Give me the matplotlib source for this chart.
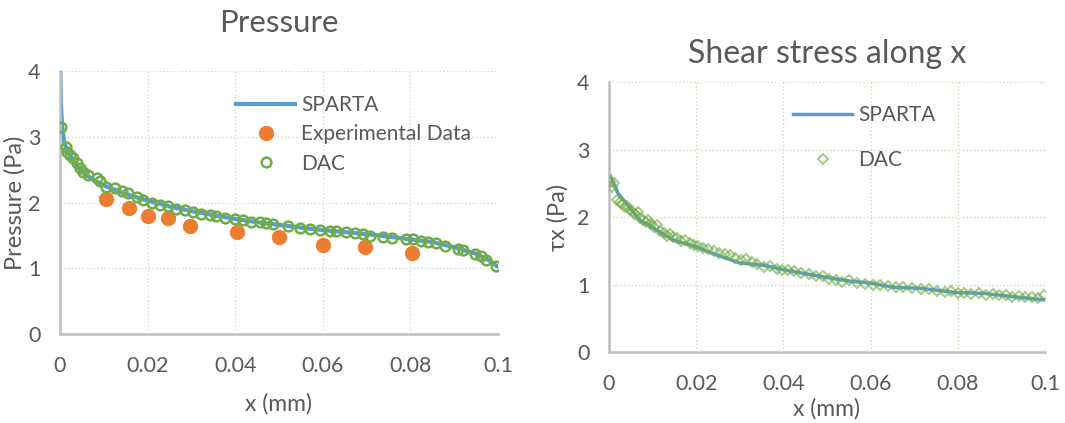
import numpy as np
import matplotlib.pyplot as plt

plt.rcParams['font.family'] = ['Lato', 'DejaVu Sans']

# ---- Pressure chart data ----
sparta_p_x = [0.0, 0.0002, 0.0005, 0.001, 0.002, 0.004, 0.006, 0.008, 0.01, 0.015,
              0.02, 0.025, 0.03, 0.035, 0.04, 0.045, 0.05, 0.055, 0.06, 0.065,
              0.07, 0.075, 0.08, 0.085, 0.09, 0.095, 0.098, 0.1]
sparta_p_y = [4.3, 3.5, 3.15, 2.9, 2.75, 2.55, 2.42, 2.33, 2.26, 2.13,
              2.03, 1.94, 1.87, 1.81, 1.75, 1.70, 1.66, 1.62, 1.58, 1.55,
              1.52, 1.48, 1.44, 1.40, 1.32, 1.22, 1.12, 1.02]

exp_x = [0.0105, 0.0158, 0.020, 0.0247, 0.0297, 0.0404, 0.050, 0.060, 0.0696, 0.0804]
exp_y = [2.05, 1.92, 1.80, 1.77, 1.64, 1.55, 1.47, 1.36, 1.33, 1.23]

dac_p_x = [0.0002, 0.0014, 0.0017, 0.0023, 0.003, 0.0038, 0.0046, 0.0053, 0.0065, 0.0084,
           0.0091, 0.0106, 0.0125, 0.0141, 0.0156, 0.0175, 0.019, 0.0209, 0.0228, 0.0247,
           0.0266, 0.0285, 0.0304, 0.0323, 0.0342, 0.0357, 0.0376, 0.0399, 0.0418, 0.0437,
           0.0456, 0.0471, 0.0487, 0.0521, 0.0548, 0.057, 0.0593, 0.0616, 0.0631, 0.0654,
           0.0673, 0.0692, 0.0707, 0.0738, 0.0757, 0.0791, 0.0806, 0.0825, 0.0840, 0.0859,
           0.0878, 0.0909, 0.0920, 0.0947, 0.0962, 0.0973, 0.0996]
dac_p_y = [3.15, 2.85, 2.77, 2.72, 2.67, 2.60, 2.52, 2.47, 2.42, 2.37,
           2.32, 2.24, 2.22, 2.17, 2.14, 2.09, 2.04, 2.00, 1.96, 1.94,
           1.90, 1.88, 1.85, 1.83, 1.81, 1.80, 1.76, 1.75, 1.74, 1.71,
           1.70, 1.69, 1.68, 1.64, 1.61, 1.59, 1.58, 1.57, 1.57, 1.55,
           1.53, 1.52, 1.49, 1.48, 1.46, 1.45, 1.44, 1.42, 1.40, 1.38,
           1.34, 1.29, 1.28, 1.21, 1.18, 1.13, 1.03]

# ---- Shear stress chart data ----
sparta_t_x = [0.0, 0.0021, 0.007, 0.0109, 0.0147, 0.02, 0.0246, 0.03, 0.0361, 0.04,
              0.0476, 0.0552, 0.06, 0.0652, 0.0721, 0.0797, 0.0858, 0.0927, 0.1]
sparta_t_y = [2.65, 2.35, 1.96, 1.81, 1.66, 1.56, 1.44, 1.32, 1.28, 1.22,
              1.13, 1.05, 1.02, 0.96, 0.94, 0.88, 0.87, 0.82, 0.77]

dac_t_x = [0.0003, 0.0008, 0.0012, 0.0018, 0.0025, 0.003, 0.0036, 0.0042, 0.0048, 0.0055,
           0.006, 0.0066, 0.0072, 0.0078, 0.0085, 0.009, 0.0097, 0.0104, 0.011, 0.0118,
           0.0126, 0.0133, 0.014, 0.0148, 0.0157, 0.0166, 0.0175, 0.0185, 0.0195, 0.0205,
           0.0216, 0.0228, 0.024, 0.0252, 0.0265, 0.0278, 0.029, 0.0303, 0.0315, 0.0328,
           0.034, 0.0355, 0.037, 0.0385, 0.0398, 0.041, 0.0425, 0.044, 0.0458, 0.0475,
           0.049, 0.0505, 0.052, 0.0535, 0.055, 0.057, 0.0588, 0.0605, 0.0622, 0.064,
           0.0658, 0.0675, 0.0695, 0.0715, 0.0735, 0.0752, 0.077, 0.0785, 0.08, 0.0815,
           0.083, 0.0848, 0.0865, 0.088, 0.0895, 0.091, 0.0925, 0.094, 0.0955, 0.097,
           0.0985, 0.0998]
dac_t_y = [2.52, 2.45, 2.50, 2.25, 2.22, 2.20, 2.15, 2.17, 2.10, 2.08,
           2.05, 2.07, 1.98, 1.96, 1.93, 1.95, 1.90, 1.85, 1.88, 1.80,
           1.76, 1.72, 1.75, 1.70, 1.69, 1.65, 1.66, 1.62, 1.58, 1.57,
           1.54, 1.52, 1.50, 1.47, 1.45, 1.43, 1.40, 1.37, 1.38, 1.33,
           1.30, 1.26, 1.28, 1.23, 1.21, 1.22, 1.20, 1.17, 1.15, 1.12,
           1.13, 1.08, 1.07, 1.04, 1.06, 1.02, 1.01, 1.00, 0.99, 0.98,
           0.96, 0.97, 0.95, 0.94, 0.93, 0.90, 0.89, 0.90, 0.88, 0.87,
           0.86, 0.88, 0.85, 0.86, 0.84, 0.85, 0.82, 0.83, 0.81, 0.82,
           0.80, 0.84]

blue = '#5B9BD5'
orange = '#ED7D31'
green = '#70AD47'
txt = '#595959'

fig = plt.figure(figsize=(10.65, 4.23), dpi=100)
ax1 = fig.add_axes([0.0563, 0.2104, 0.4113, 0.6217])
ax2 = fig.add_axes([0.5718, 0.1678, 0.4094, 0.6383])


def style(ax, gridcol):
    ax.set_xlim(0, 0.1)
    ax.set_ylim(0, 4)
    ax.set_xticks([0, 0.02, 0.04, 0.06, 0.08, 0.1])
    ax.set_xticklabels(['0', '0.02', '0.04', '0.06', '0.08', '0.1'])
    ax.set_yticks([0, 1, 2, 3, 4])
    ax.grid(True, color=gridcol, linestyle=':', linewidth=1.0)
    ax.set_axisbelow(True)
    for s in ['top', 'right']:
        ax.spines[s].set_visible(False)
    for s in ['left', 'bottom']:
        ax.spines[s].set_color('#BFBFBF')
        ax.spines[s].set_linewidth(1.8)
    ax.tick_params(length=0, labelsize=15.5, labelcolor=txt)
    ax.tick_params(axis='x', pad=16)
    ax.tick_params(axis='y', pad=14)


style(ax1, '#D9D9D9')
ax1.plot(sparta_p_x, sparta_p_y, color=blue, lw=3, label='SPARTA', zorder=2)
ax1.plot(exp_x, exp_y, 'o', color=orange, ms=10, label='Experimental Data', zorder=3)
ax1.plot(dac_p_x, dac_p_y, 'o', mfc='none', mec=green, mew=1.8, ms=7, label='DAC', zorder=4)
ax1.set_title('Pressure', fontsize=22.5, color=txt, pad=28)
ax1.set_xlabel('x (mm)', fontsize=16.5, color=txt, labelpad=12)
ax1.set_ylabel('Pressure (Pa)', fontsize=17, color=txt, labelpad=2)
ax1.legend(loc='upper left', bbox_to_anchor=(0.36, 0.98), frameon=False, fontsize=15,
           labelcolor=txt, handlelength=2.8, handletextpad=0.3, labelspacing=0.45)

style(ax2, '#C5E0B4')
ax2.plot(sparta_t_x, sparta_t_y, color=blue, lw=2.5, label='SPARTA', zorder=2)
ax2.plot(dac_t_x, dac_t_y, 'D', mfc='none', mec=green, mew=1.5, ms=5.5, alpha=0.6,
         label='DAC', zorder=3)
ax2.set_title('Shear stress along x', fontsize=23, color=txt, pad=14)
ax2.set_xlabel('x (mm)', fontsize=16.5, color=txt, labelpad=3)
ax2.set_ylabel('τx (Pa)', fontsize=17, color=txt, labelpad=6)
ax2.legend(loc='upper left', bbox_to_anchor=(0.38, 0.985), frameon=False, fontsize=15,
           labelcolor=txt, handlelength=2.8, handletextpad=0.3, labelspacing=1.2)

fig.savefig('out.png', dpi=100)
